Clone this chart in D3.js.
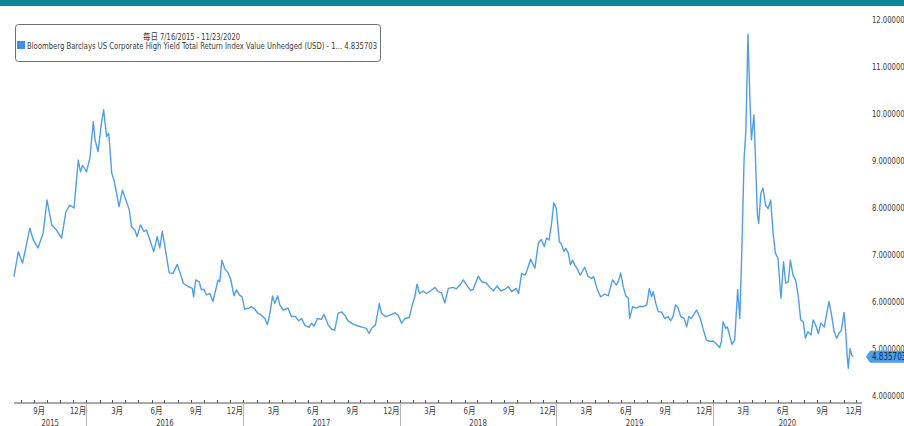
<!DOCTYPE html>
<html><head><meta charset="utf-8">
<script src="https://cdn.jsdelivr.net/npm/d3@7"></script>
<style>
html,body{margin:0;padding:0;background:#fff;overflow:hidden}
svg{display:block}
text{font-family:"Liberation Sans Narrow","DejaVu Sans Condensed","Liberation Sans","Noto Sans CJK JP",sans-serif}
</style></head><body>
<svg id="c" width="904" height="426"></svg>
<script>
// ---- data ----
const dates = [
"2015-07-16","2015-07-26","2015-08-05","2015-08-13","2015-08-22","2015-08-30","2015-09-10","2015-09-22","2015-10-01","2015-10-12",
"2015-10-23","2015-11-04","2015-11-14","2015-11-23","2015-12-03","2015-12-13","2015-12-18","2015-12-23","2016-01-01","2016-01-09",
"2016-01-17","2016-01-21","2016-01-28","2016-02-05","2016-02-10","2016-02-17","2016-02-22","2016-02-29","2016-03-05","2016-03-11",
"2016-03-17","2016-03-25","2016-04-02","2016-04-10","2016-04-15","2016-04-23","2016-04-28","2016-05-06","2016-05-14","2016-05-20",
"2016-05-28","2016-06-06","2016-06-14","2016-06-20","2016-06-26","2016-07-02","2016-07-12","2016-07-21","2016-07-31","2016-08-14",
"2016-08-25","2016-09-04","2016-09-07","2016-09-12","2016-09-20","2016-09-25","2016-10-01","2016-10-07","2016-10-15","2016-10-22",
"2016-11-03","2016-11-07","2016-11-12","2016-11-19","2016-11-26","2016-12-03","2016-12-10","2016-12-16","2016-12-23","2016-12-29",
"2017-01-04","2017-01-14","2017-01-20","2017-01-28","2017-02-04","2017-02-12","2017-02-20","2017-02-26","2017-03-04","2017-03-10",
"2017-03-15","2017-03-22","2017-03-27","2017-04-04","2017-04-15","2017-04-23","2017-05-03","2017-05-10","2017-05-17","2017-05-24",
"2017-06-03","2017-06-09","2017-06-15","2017-06-23","2017-07-02","2017-07-08","2017-07-18","2017-07-26","2017-08-02","2017-08-10",
"2017-08-18","2017-08-26","2017-09-02","2017-09-14","2017-09-26","2017-10-07","2017-10-15","2017-10-21","2017-10-27","2017-11-05",
"2017-11-10","2017-11-14","2017-11-19","2017-11-29","2017-12-09","2017-12-20","2017-12-28","2018-01-05","2018-01-13","2018-01-23",
"2018-01-30","2018-02-05","2018-02-10","2018-02-16","2018-02-24","2018-03-04","2018-03-14","2018-03-24","2018-03-31","2018-04-08",
"2018-04-16","2018-04-24","2018-05-05","2018-05-13","2018-05-21","2018-05-29","2018-06-06","2018-06-15","2018-06-21","2018-07-03",
"2018-07-11","2018-07-22","2018-07-30","2018-08-07","2018-08-16","2018-08-24","2018-09-03","2018-09-11","2018-09-19","2018-09-29",
"2018-10-05","2018-10-12","2018-10-20","2018-10-25","2018-11-02","2018-11-12","2018-11-20","2018-11-27","2018-12-04","2018-12-09",
"2018-12-15","2018-12-21","2018-12-26","2019-01-01","2019-01-08","2019-01-13","2019-01-19","2019-01-23","2019-01-29","2019-02-03",
"2019-02-08","2019-02-13","2019-02-19","2019-02-26","2019-03-08","2019-03-16","2019-03-24","2019-03-29","2019-04-05","2019-04-14",
"2019-04-24","2019-05-02","2019-05-12","2019-05-21","2019-05-27","2019-05-31","2019-06-06","2019-06-12","2019-06-18","2019-06-21",
"2019-06-28","2019-07-07","2019-07-15","2019-07-23","2019-07-31","2019-08-06","2019-08-11","2019-08-15","2019-08-21","2019-08-27",
"2019-09-03","2019-09-11","2019-09-19","2019-09-25","2019-09-30","2019-10-06","2019-10-12","2019-10-18","2019-10-26","2019-11-01",
"2019-11-06","2019-11-12","2019-11-24","2019-12-02","2019-12-09","2019-12-17","2019-12-25","2020-01-02","2020-01-10","2020-01-17",
"2020-01-21","2020-01-25","2020-01-31","2020-02-04","2020-02-10","2020-02-15","2020-02-21","2020-02-28","2020-03-04","2020-03-09",
"2020-03-14","2020-03-18","2020-03-23","2020-03-27","2020-03-31","2020-04-06","2020-04-10","2020-04-14","2020-04-17","2020-04-22",
"2020-04-27","2020-05-03","2020-05-09","2020-05-15","2020-05-21","2020-05-26","2020-06-01","2020-06-08","2020-06-14","2020-06-19",
"2020-06-25","2020-06-30","2020-07-06","2020-07-12","2020-07-18","2020-07-24","2020-07-30","2020-08-04","2020-08-10","2020-08-17",
"2020-08-22","2020-08-28","2020-09-03","2020-09-09","2020-09-17","2020-09-22","2020-09-28","2020-10-04","2020-10-10","2020-10-16",
"2020-10-21","2020-10-27","2020-11-02","2020-11-06","2020-11-09","2020-11-12","2020-11-16","2020-11-20","2020-11-23"
];
const values = [
6.54,7.07,6.83,7.18,7.57,7.32,7.15,7.47,8.17,7.64,
7.53,7.36,7.92,8.06,8.00,9.02,8.77,8.91,8.77,9.06,
9.84,9.45,9.20,9.81,10.09,9.52,9.59,8.74,8.60,8.32,
8.03,8.38,8.17,7.96,7.60,7.53,7.39,7.64,7.50,7.53,
7.32,7.07,7.39,7.15,7.50,7.18,6.62,6.61,6.80,6.40,
6.33,6.29,6.11,6.47,6.43,6.26,6.27,6.15,6.18,6.01,
6.47,6.43,6.89,6.70,6.63,6.47,6.13,6.26,6.15,6.11,
5.85,5.87,5.90,5.84,5.76,5.72,5.65,5.52,5.76,6.13,
5.97,6.13,5.94,5.83,5.87,5.69,5.69,5.60,5.65,5.51,
5.46,5.55,5.49,5.65,5.63,5.74,5.51,5.42,5.40,5.76,
5.79,5.72,5.60,5.53,5.49,5.46,5.44,5.33,5.44,5.51,
5.76,5.97,5.76,5.69,5.72,5.77,5.72,5.55,5.65,5.67,
5.94,6.11,6.38,6.18,6.23,6.18,6.24,6.31,6.22,6.20,
5.98,6.29,6.31,6.28,6.36,6.47,6.36,6.24,6.27,6.55,
6.43,6.40,6.31,6.24,6.34,6.24,6.27,6.33,6.22,6.29,
6.18,6.61,6.57,6.68,6.91,6.72,7.25,7.33,7.18,7.36,
7.32,7.67,8.11,7.99,7.28,7.23,7.07,7.14,7.04,6.79,
6.89,6.79,6.70,6.57,6.74,6.55,6.50,6.54,6.31,6.11,
6.17,6.13,6.47,6.36,6.47,6.62,6.33,6.13,6.08,5.65,
5.90,5.87,5.91,5.90,5.94,6.29,6.11,6.22,5.97,5.79,
5.79,5.65,5.69,5.60,5.69,5.94,5.88,5.69,5.65,5.47,
5.69,5.65,5.83,5.67,5.44,5.19,5.16,5.17,5.10,5.03,
5.16,5.58,5.44,5.47,5.26,5.10,5.19,6.26,5.65,7.21,
9.06,9.62,11.70,10.47,9.45,9.98,8.91,7.85,7.67,8.31,
8.42,8.06,7.99,8.17,7.43,7.04,6.93,6.08,6.86,6.40,
6.43,6.89,6.57,6.47,6.15,5.62,5.58,5.23,5.37,5.30,
5.62,5.51,5.33,5.55,5.47,5.72,6.01,5.72,5.37,5.23,
5.33,5.40,5.78,5.37,4.91,4.59,5.01,4.87,4.835703
];
const yTicks = [4,5,6,7,8,9,10,11,12];
const labeledMonths = [3,6,9,12];
const years = [2015,2016,2017,2018,2019,2020];
const legendTitle = "毎日 7/16/2015 - 11/23/2020";
const seriesName = "Bloomberg Barclays US Corporate High Yield Total Return Index Value Unhedged (USD) - 1...";
const lastValue = 4.835703;

// ---- layout ----
const W = 904, H = 426;
const xLeft = 14, xDataRight = 853, xAxisRight = 862;
const yTop = 20, yBottom = 396, axisY = 403;
const lineColor = "#519fe3";
const textColor = "#3a3a3a";

const parse = d3.utcParse("%Y-%m-%d");
const data = dates.map((d, i) => ({date: parse(d), value: values[i]}));

const x = d3.scaleUtc().domain([data[0].date, data[data.length - 1].date]).range([xLeft, xDataRight]);
const y = d3.scaleLinear().domain([4, 12]).range([yBottom, yTop]);

const svg = d3.select("#c");
svg.append("rect").attr("width", W).attr("height", H).attr("fill", "#fff");

// teal header band
svg.append("rect").attr("x", 0).attr("y", 0).attr("width", W).attr("height", 6).attr("fill", "#0a8696");

// series line
svg.append("path").datum(data)
  .attr("fill", "none").attr("stroke", lineColor).attr("stroke-width", 1.4)
  .attr("stroke-linejoin", "round")
  .attr("d", d3.line().x(d => x(d.date)).y(d => y(d.value)));

// right y labels
const fmt = d3.format(".6f");
svg.append("g").selectAll("text").data(yTicks).join("text")
  .attr("transform", d => `translate(872,${y(d)}) scale(0.8,1)`)
  .attr("dy", "0.35em").attr("font-size", 9.5).attr("fill", textColor)
  .text(d => fmt(d));

// bottom axis line
const ax = svg.append("g");
ax.append("line").attr("x1", xLeft).attr("x2", xAxisRight).attr("y1", axisY).attr("y2", axisY)
  .attr("stroke", "#555").attr("stroke-width", 1);

const months = d3.utcMonth.range(d3.utcMonth.ceil(x.domain()[0]), new Date(Date.UTC(2021, 0, 1)))
  .filter(m => x(m) <= xAxisRight);
ax.selectAll("line.tick").data(months).join("line").attr("class", "tick")
  .attr("x1", d => Math.round(x(d)) + 0.5).attr("x2", d => Math.round(x(d)) + 0.5)
  .attr("y1", axisY - 3).attr("y2", axisY).attr("stroke", "#555");

const labMonths = months.filter(m => labeledMonths.includes(m.getUTCMonth() + 1));
ax.selectAll("text.mon").data(labMonths).join("text").attr("class", "mon")
  .attr("transform", d => {
    let cx = x(d) + 5;
    if (cx + 7 > xAxisRight - 1) cx = xAxisRight - 8;
    return `translate(${cx},414) scale(0.85,1)`;
  })
  .attr("text-anchor", "middle").attr("font-size", 9).attr("fill", textColor)
  .text(d => (d.getUTCMonth() + 1) + "月");

// year dividers and labels
const clampX = v => Math.max(xLeft, Math.min(xAxisRight, v));
ax.selectAll("line.yr").data(years.slice(1)).join("line").attr("class", "yr")
  .attr("x1", d => Math.round(x(new Date(Date.UTC(d, 0, 1)))) + 0.5)
  .attr("x2", d => Math.round(x(new Date(Date.UTC(d, 0, 1)))) + 0.5)
  .attr("y1", axisY).attr("y2", H).attr("stroke", "#b5b5b5");
ax.selectAll("text.yr").data(years).join("text").attr("class", "yr")
  .attr("transform", d => {
    const a = clampX(x(new Date(Date.UTC(d, 0, 1))));
    const b = clampX(x(new Date(Date.UTC(d + 1, 0, 1))));
    return `translate(${(a + b) / 2},426) scale(0.85,1)`;
  })
  .attr("text-anchor", "middle").attr("font-size", 9).attr("fill", textColor)
  .text(d => d);

// last value tag
const ly = y(lastValue);
const tag = svg.append("g");
tag.append("path")
  .attr("d", `M866,${ly} L870,${ly - 6} L904,${ly - 6} L904,${ly + 6} L870,${ly + 6} Z`)
  .attr("fill", "#4f9fe8");
tag.append("text").attr("transform", `translate(872,${ly}) scale(0.8,1)`)
  .attr("dy", "0.35em").attr("font-size", 10).attr("fill", "#0d2a52")
  .text(fmt(lastValue));

// legend box
const lg = svg.append("g");
lg.append("rect").attr("x", 15.5).attr("y", 24.5).attr("width", 365).attr("height", 37)
  .attr("rx", 3).attr("fill", "#fff").attr("stroke", "#707070");
lg.append("text").attr("x", 143).attr("y", 40).attr("font-size", 9).attr("fill", textColor)
  .attr("textLength", 97).attr("lengthAdjust", "spacingAndGlyphs")
  .text(legendTitle);
lg.append("rect").attr("x", 17).attr("y", 41).attr("width", 8).attr("height", 8).attr("fill", "#3d8fe6");
lg.append("text").attr("x", 27).attr("y", 49).attr("font-size", 9).attr("fill", textColor)
  .attr("textLength", 350).attr("lengthAdjust", "spacingAndGlyphs")
  .text(seriesName + " " + fmt(lastValue));
</script>
</body></html>
